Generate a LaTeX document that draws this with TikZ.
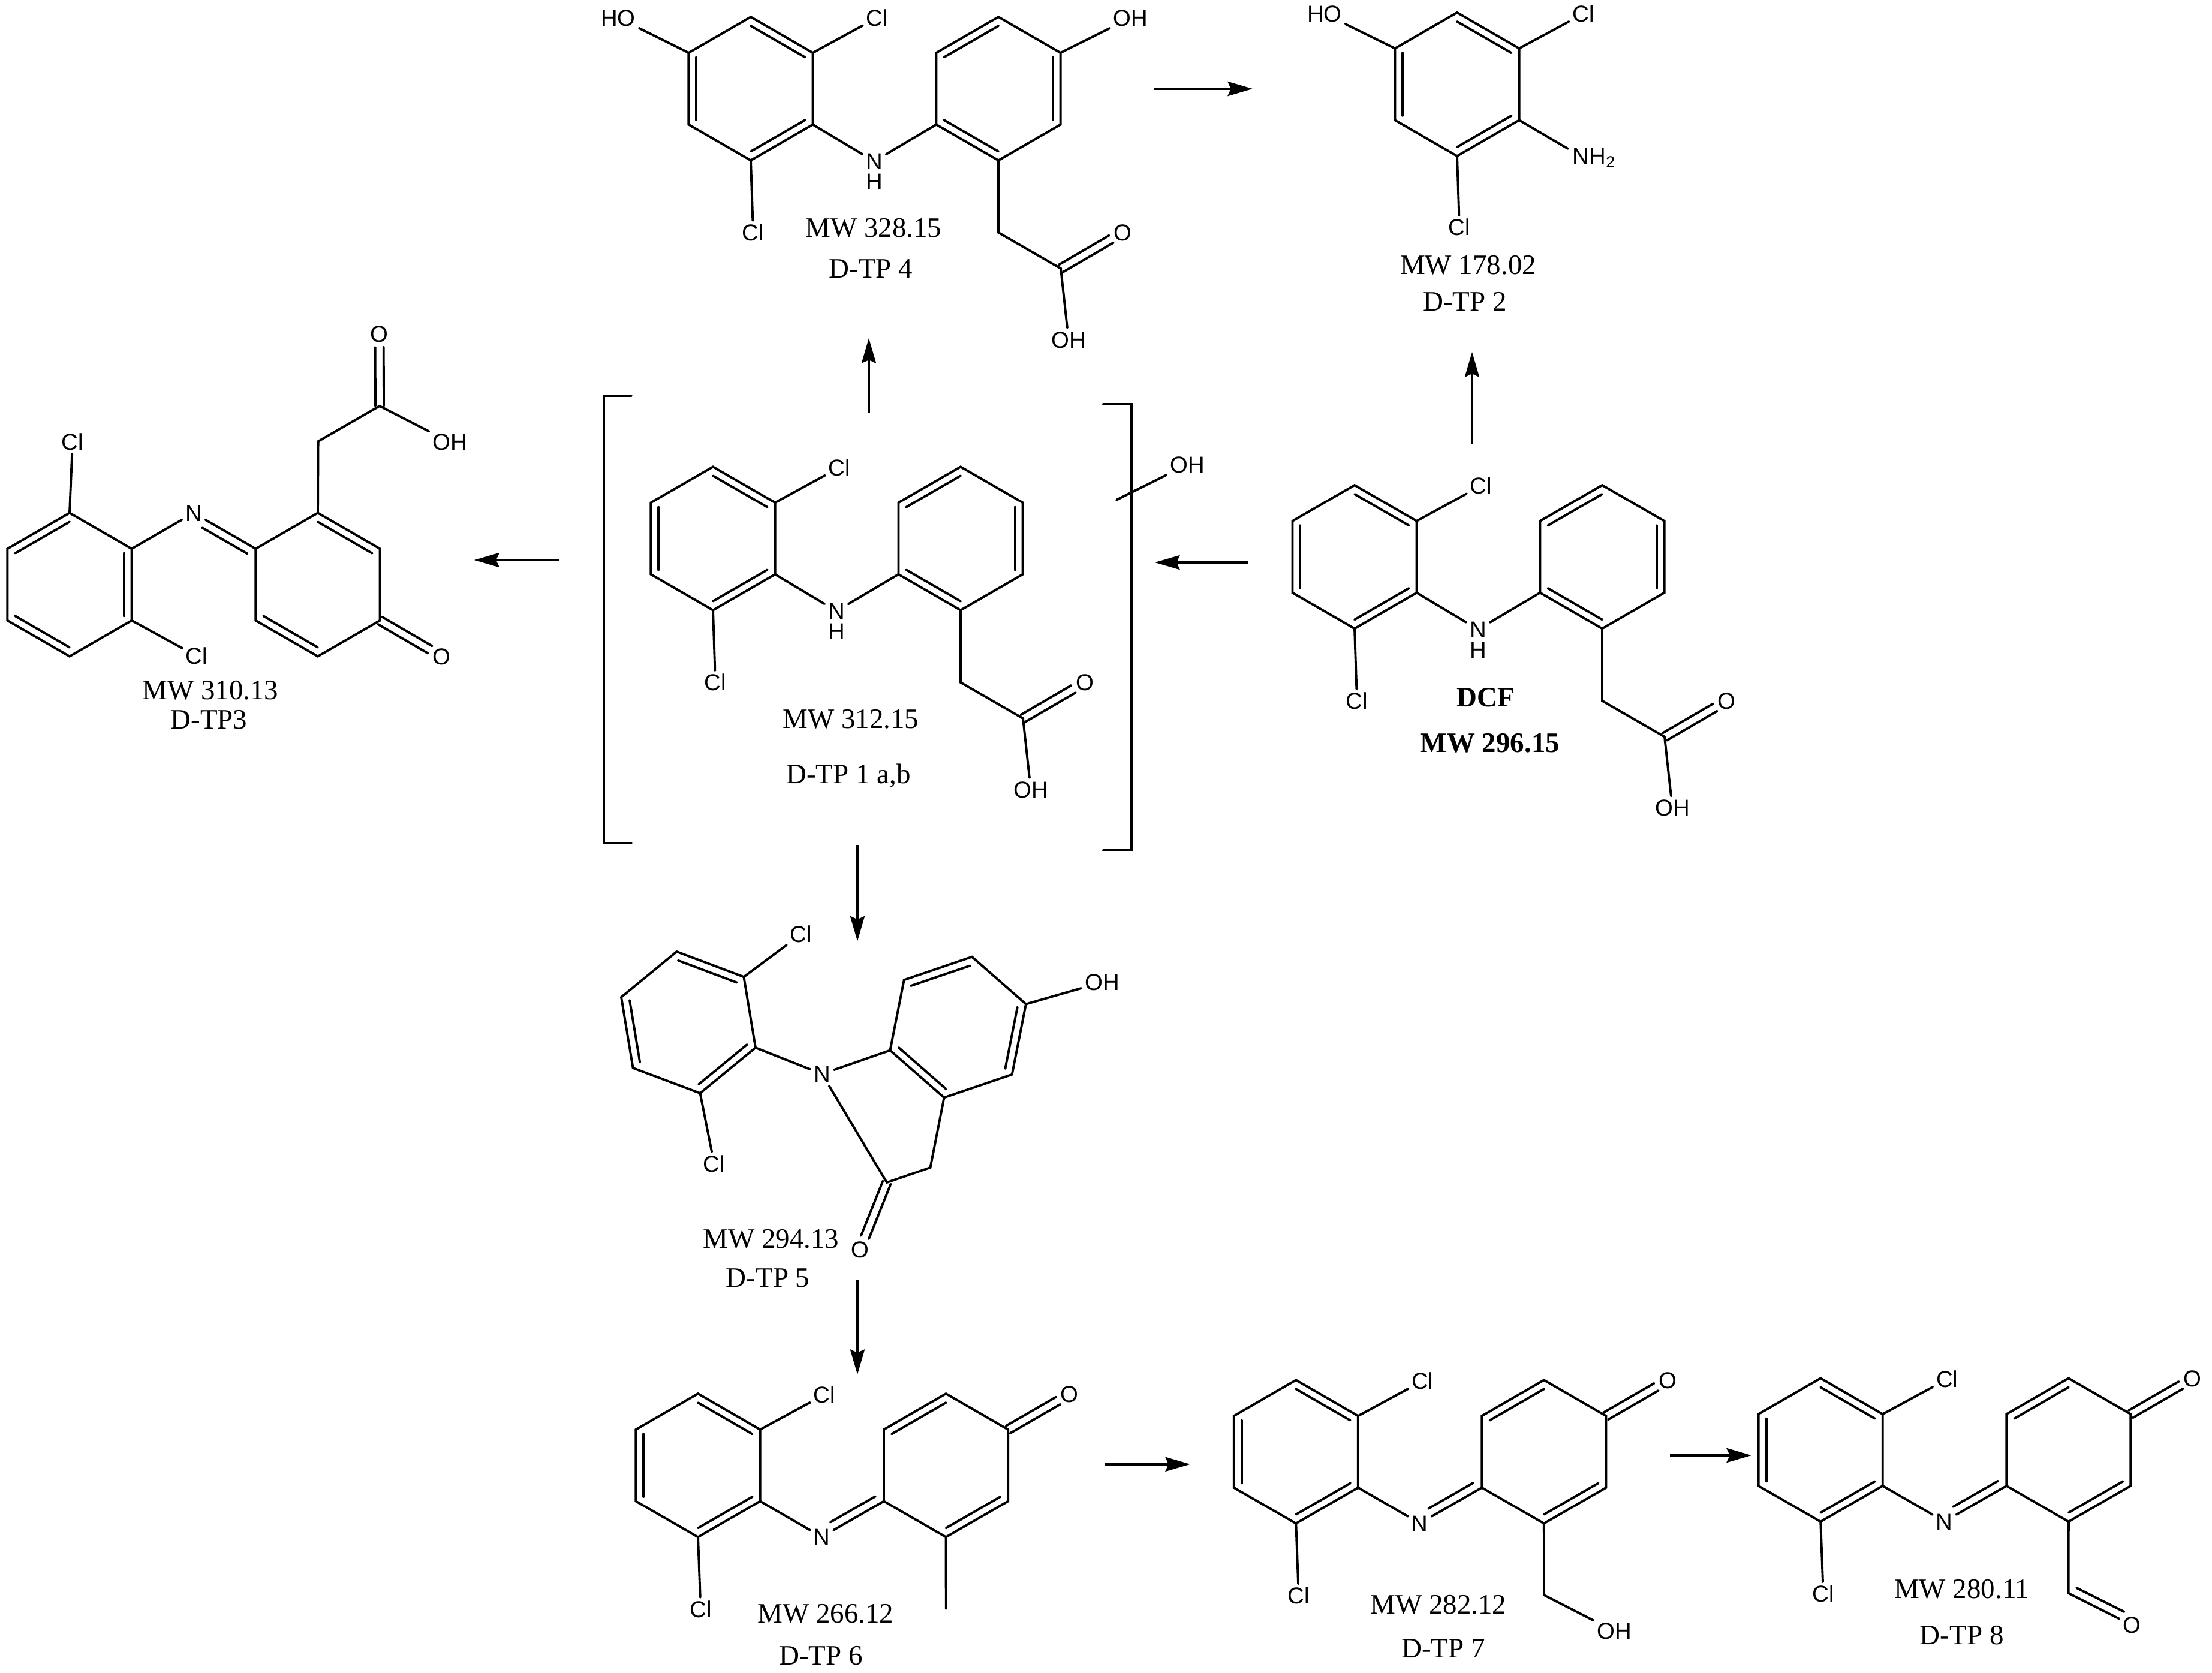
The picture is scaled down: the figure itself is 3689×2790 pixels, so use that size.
\documentclass[tikz,border=0pt]{standalone}
\usepackage{fontspec}
\setmainfont{Liberation Serif}
\newfontfamily\atomfont{Liberation Sans}
\usetikzlibrary{calc,arrows.meta}
\tikzset{
  bond/.style={line width=1.1pt, line cap=round},
  arrow/.style={line width=1.1pt, -{Stealth[length=11.8pt,width=6.8pt,inset=1.5pt]}},
  atom/.style={font=\atomfont\fontsize{10.9}{12}\selectfont, inner sep=1.5pt, text height=7.8pt, text depth=0pt},
  caption/.style={font=\fontsize{13.35}{15}\selectfont, inner sep=0pt, text height=8.9pt, text depth=0pt}
}
\newcommand{\hexring}[4]{
  \coordinate (#1c) at (#2,#3);
  \foreach \k in {1,...,6}{
    \coordinate (#1\k) at ({#2+119.6*cos(60*\k-150+#4)},{#3+119.6*sin(60*\k-150+#4)});
  }
  \draw[bond] (#11)--(#12)--(#13)--(#14)--(#15)--(#16)--cycle;
}
\newcommand{\innerbonds}[2]{
  \foreach \i/\j in {#2}{
    \draw[bond] ($(#1\i)!0.125!(#1c)$) -- ($(#1\j)!0.125!(#1c)$);
  }
}
\newcommand{\twinbond}[2]{
  \draw[bond,shorten >=6.2pt] ($(#1)!2pt!90:(#2)$) -- ($(#2)!2pt!-90:(#1)$);
  \draw[bond,shorten >=6.2pt] ($(#1)!2pt!-90:(#2)$) -- ($(#2)!2pt!90:(#1)$);
}
\newcommand{\sidebond}[4]{
  \draw[bond,shorten <=#3,shorten >=#4] ($(#1)!4pt!90:(#2)$) -- ($(#2)!4pt!-90:(#1)$);
}
\newcommand{\aminoacid}[3]{
  \begin{scope}[shift={(#2,#3)}]
    \hexring{#1L}{0}{0}{0}
    \innerbonds{#1L}{1/2,3/4,5/6}
    \hexring{#1R}{413}{0}{0}
    \innerbonds{#1R}{1/6,4/5,2/3}
    \node[atom] (#1N) at (206,121) {N};
    \node[atom] (#1H) at (206,155) {H};
    \node[atom] (#1ClA) at (211,-118.5) {Cl};
    \node[atom] (#1ClB) at (4,240) {Cl};
    \node[atom] (#1O) at (620,240) {O};
    \node[atom] (#1OH) at (530,418.5) {OH};
    \coordinate (#1CH) at (413,240);
    \coordinate (#1CO) at (517,300);
    \draw[bond] (#1L3) -- (#1N) -- (#1R5);
    \draw[bond] (#1L2) -- (#1ClA);
    \draw[bond] (#1L4) -- (#1ClB);
    \draw[bond] (#1R4) -- (#1CH) -- (#1CO) -- (#1OH);
    \twinbond{#1CO}{#1O}
  \end{scope}
}
\newcommand{\quinoneimine}[3]{
  \begin{scope}[shift={(#2,#3)}]
    \hexring{#1L}{0}{0}{0}
    \innerbonds{#1L}{1/2,3/4,5/6}
    \hexring{#1R}{413.6}{0}{0}
    \innerbonds{#1R}{1/6,3/4}
    \node[atom] (#1N) at (206.5,119.3) {N};
    \node[atom] (#1ClA) at (211,-118) {Cl};
    \node[atom] (#1ClB) at (4.5,240) {Cl};
    \node[atom] (#1O) at (619.7,-119) {O};
    \draw[bond] (#1L3) -- (#1N) -- (#1R5);
    \sidebond{#1N}{#1R5}{7pt}{2.3pt}
    \draw[bond] (#1L2) -- (#1ClA);
    \draw[bond] (#1L4) -- (#1ClB);
    \twinbond{#1R2}{#1O}
  \end{scope}
}

\begin{document}
\begin{tikzpicture}[x=0.01cm,y=-0.01cm]
  \useasboundingbox (0,0) rectangle (3689,2790);

  % DCF
  \aminoacid{dcf}{2259}{928.7}
  \node[caption] (dcfname) at (2478,1162.5) {\textbf{DCF}};
  \node[caption] (dcfmw) at (2485,1239) {\textbf{MW 296.15}};

  % D-TP 1 in brackets
  \aminoacid{tpa}{1189}{898}
  \node[caption] (tpamw) at (1419,1199) {MW 312.15};
  \node[caption] (tpaname) at (1415,1291) {D-TP 1 a,b};
  \draw[bond] (1052.6,659.6) -- (1007,659.6) -- (1007,1406) -- (1052.6,1406);
  \draw[bond] (1840,673.7) -- (1887,673.7) -- (1887,1418) -- (1840,1418);
  \coordinate (brfree) at (1862,833.6);
  \node[atom] (brOH) at (1980,774.7) {OH};
  \draw[bond] (brfree) -- (brOH);

  % D-TP 4
  \aminoacid{tpd}{1252}{147.8}
  \node[atom] (tpdHO) at (1031,29.6) {HO};
  \node[atom] (tpdOHr) at (1885.6,29.6) {OH};
  \draw[bond] (tpdL6) -- (tpdHO);
  \draw[bond] (tpdR2) -- (tpdOHr);
  \node[caption] (tpdmw) at (1457,380) {MW 328.15};
  \node[caption] (tpdname) at (1452.5,448) {D-TP 4};

  % D-TP 2
  \hexring{tpb}{2430}{140.5}{0}
  \innerbonds{tpb}{1/2,3/4,5/6}
  \node[atom] (tpbHO) at (2209,23) {HO};
  \node[atom] (tpbClA) at (2640.5,23) {Cl};
  \node[atom] (tpbClB) at (2434,379) {Cl};
  \node[atom] (tpbNH) at (2659,260) {NH\textsubscript{2}};
  \coordinate (tpbend) at (2615,248);
  \draw[bond] (tpb6) -- (tpbHO);
  \draw[bond] (tpb2) -- (tpbClA);
  \draw[bond] (tpb4) -- (tpbClB);
  \draw[bond] (tpb3) -- (tpbend);
  \node[caption] (tpbmw) at (2448.5,441.5) {MW 178.02};
  \node[caption] (tpbname) at (2443,503) {D-TP 2};

  % D-TP3
  \hexring{tpcL}{116}{975}{0}
  \innerbonds{tpcL}{1/6,2/3,4/5}
  \hexring{tpcR}{530}{975}{0}
  \innerbonds{tpcR}{1/2,4/5}
  \node[atom] (tpcN) at (323,855.6) {N};
  \node[atom] (tpcClA) at (121,737) {Cl};
  \node[atom] (tpcClB) at (328,1094) {Cl};
  \node[atom] (tpcOa) at (736,1094.4) {O};
  \node[atom] (tpcOb) at (632.6,557) {O};
  \node[atom] (tpcOH) at (750,737) {OH};
  \coordinate (tpcCH) at (530.6,736);
  \coordinate (tpcCO) at (633,677);
  \draw[bond] (tpcL2) -- (tpcN) -- (tpcR6);
  \sidebond{tpcR6}{tpcN}{2.3pt}{7pt}
  \draw[bond] (tpcL1) -- (tpcClA);
  \draw[bond] (tpcL3) -- (tpcClB);
  \twinbond{tpcR3}{tpcOa}
  \draw[bond] (tpcR1) -- (tpcCH) -- (tpcCO) -- (tpcOH);
  \twinbond{tpcCO}{tpcOb}
  \node[caption] (tpcmw) at (351,1150.5) {MW 310.13};
  \node[caption] (tpcname) at (348.5,1200) {D-TP3};

  % D-TP 5
  \hexring{tpeL}{1148}{1705}{-9.4}
  \innerbonds{tpeL}{1/2,3/4,5/6}
  \hexring{tpeR}{1597.7}{1713}{11.2}
  \innerbonds{tpeR}{1/6,2/3,4/5}
  \node[atom] (tpeN) at (1371,1791) {N};
  \node[atom] (tpeOH) at (1838,1638) {OH};
  \node[atom] (tpeClA) at (1336,1558) {Cl};
  \node[atom] (tpeClB) at (1191,1940.5) {Cl};
  \node[atom] (tpeO) at (1434.5,2083.6) {O};
  \coordinate (tpeCH) at (1551.5,1947);
  \coordinate (tpeCO) at (1479,1972);
  \draw[bond] (tpeL3) -- (tpeN) -- (tpeR5);
  \draw[bond] (tpeL2) -- (tpeClA);
  \draw[bond] (tpeL4) -- (tpeClB);
  \draw[bond] (tpeR2) -- (tpeOH);
  \draw[bond] (tpeR4) -- (tpeCH) -- (tpeCO) -- (tpeN);
  \twinbond{tpeCO}{tpeO}
  \node[caption] (tpemw) at (1286,2066) {MW 294.13};
  \node[caption] (tpename) at (1280.6,2131) {D-TP 5};

  % D-TP 6
  \quinoneimine{tpf}{1164}{2443.7}
  \coordinate (tpfMe) at (1577.7,2683);
  \draw[bond] (tpfR4) -- (tpfMe);
  \node[caption] (tpfmw) at (1377,2691) {MW 266.12};
  \node[caption] (tpfname) at (1369,2760.6) {D-TP 6};

  % D-TP 7
  \quinoneimine{tpg}{2161.3}{2421}
  \coordinate (tpgCH) at (2575,2660);
  \node[atom] (tpgOH) at (2692,2720) {OH};
  \draw[bond] (tpgR4) -- (tpgCH) -- (tpgOH);
  \node[caption] (tpgmw) at (2398.7,2676) {MW 282.12};
  \node[caption] (tpgname) at (2407,2748.5) {D-TP 7};

  % D-TP 8
  \quinoneimine{tph}{3036.2}{2418}
  \coordinate (tphCH) at (3449.7,2657);
  \node[atom] (tphOb) at (3555,2710) {O};
  \draw[bond] (tphR4) -- (tphCH) -- (tphOb);
  \sidebond{tphCH}{tphOb}{2.3pt}{6pt}
  \node[caption] (tphmw) at (3271.7,2650) {MW 280.11};
  \node[caption] (tphname) at (3271.7,2726.7) {D-TP 8};

  % Reaction arrows
  \coordinate (arAs) at (1925,148);    \coordinate (arAe) at (2089,148);
  \coordinate (arBs) at (2455,741);    \coordinate (arBe) at (2455,587);
  \coordinate (arCs) at (2082,938);    \coordinate (arCe) at (1926,938);
  \coordinate (arDs) at (1449,689);    \coordinate (arDe) at (1449,564);
  \coordinate (arEs) at (932,934);     \coordinate (arEe) at (791,934);
  \coordinate (arFs) at (1430,1410);   \coordinate (arFe) at (1430,1569.5);
  \coordinate (arGs) at (1430,2135);   \coordinate (arGe) at (1430,2292);
  \coordinate (arHs) at (1842,2441.8); \coordinate (arHe) at (1985,2441.8);
  \coordinate (arIs) at (2785.4,2427); \coordinate (arIe) at (2921,2427);
  \draw[arrow] (arAs) -- (arAe);
  \draw[arrow] (arBs) -- (arBe);
  \draw[arrow] (arCs) -- (arCe);
  \draw[arrow] (arDs) -- (arDe);
  \draw[arrow] (arEs) -- (arEe);
  \draw[arrow] (arFs) -- (arFe);
  \draw[arrow] (arGs) -- (arGe);
  \draw[arrow] (arHs) -- (arHe);
  \draw[arrow] (arIs) -- (arIe);
\end{tikzpicture}
\end{document}
